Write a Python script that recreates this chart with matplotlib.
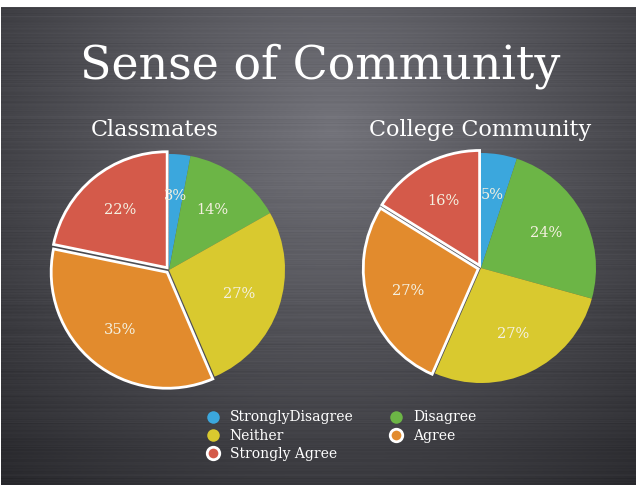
import numpy as np
import matplotlib.pyplot as plt
from matplotlib.lines import Line2D

# data
categories = ['StronglyDisagree', 'Disagree', 'Neither', 'Agree', 'Strongly Agree']
classmates = [3, 14, 27, 35, 22]
college = [5, 24, 27, 27, 16]
colors = ['#3ba7dd', '#6cb546', '#d9c92f', '#e28b2d', '#d45a4a']
explode = [0, 0, 0, 0.025, 0.025]

W, H = 638, 493
fig = plt.figure(figsize=(W / 100, H / 100), dpi=100)
fig.patch.set_facecolor('white')

# background: radial gray gradient with faint brushed lines
bg = fig.add_axes([1 / W, 8 / H, (W - 3) / W, (H - 15) / H])
yy, xx = np.mgrid[0:H - 15, 0:W - 3]
d = np.sqrt(((xx - 330) / 420.0) ** 2 + ((yy - 120) / 380.0) ** 2)
val = 0.45 - 0.24 * np.clip(d, 0, 1.2)
rng = np.random.default_rng(3)
lines = rng.normal(0, 0.008, size=(H - 15, 1)) * np.ones((1, W - 3))
val = np.clip(val + lines, 0, 1)
img = np.dstack([val, val, val * 1.04 + 0.01])
bg.imshow(np.clip(img, 0, 1), aspect='auto', interpolation='bilinear')
bg.set_axis_off()

serif = 'DejaVu Serif'

fig.text(320 / W, 1 - 66 / H, 'Sense of Community', color='white', family=serif,
         fontsize=33, ha='center', va='center')
fig.text(155 / W, 1 - 130 / H, 'Classmates', color='white', family=serif,
         fontsize=16, ha='center', va='center')
fig.text(480 / W, 1 - 130 / H, 'College Community', color='white', family=serif,
         fontsize=16, ha='center', va='center')


def draw_pie(values, cx, cy, r):
    ax = fig.add_axes([(cx - r) / W, 1 - (cy + r) / H, 2 * r / W, 2 * r / H])
    wedges, texts, autotexts = ax.pie(
        values, colors=colors, startangle=90, counterclock=False,
        explode=explode, autopct='%.0f%%', pctdistance=0.64,
        textprops=dict(color='#f4f0e0', family=serif, fontsize=10.5),
        wedgeprops=dict(linewidth=0))
    for w in wedges[3:]:
        w.set_edgecolor('white')
        w.set_linewidth(2)
    for w in wedges:
        w.set_clip_on(False)
    ax.set_xlim(-1, 1)
    ax.set_ylim(-1, 1)
    ax.set_aspect('equal')
    ax.set_axis_off()


draw_pie(classmates, 169, 270, 116)
draw_pie(college, 481, 268, 115)

# legend
order = [0, 2, 4, 1, 3]
handles = []
for i in order:
    edge = 'white' if i >= 3 else colors[i]
    handles.append(Line2D([], [], linestyle='none', marker='o', markersize=9,
                          markerfacecolor=colors[i], markeredgecolor=edge,
                          markeredgewidth=2 if i >= 3 else 0))
leg = fig.legend(handles, [categories[i] for i in order], ncol=2,
                 loc='upper left', bbox_to_anchor=(192 / W, 1 - 398 / H),
                 frameon=False, prop=dict(family=serif, size=10),
                 labelcolor='white', handletextpad=0.6, columnspacing=2.5,
                 labelspacing=0.3, handlelength=1.2)

fig.savefig('out.png', dpi=100, facecolor='white')
